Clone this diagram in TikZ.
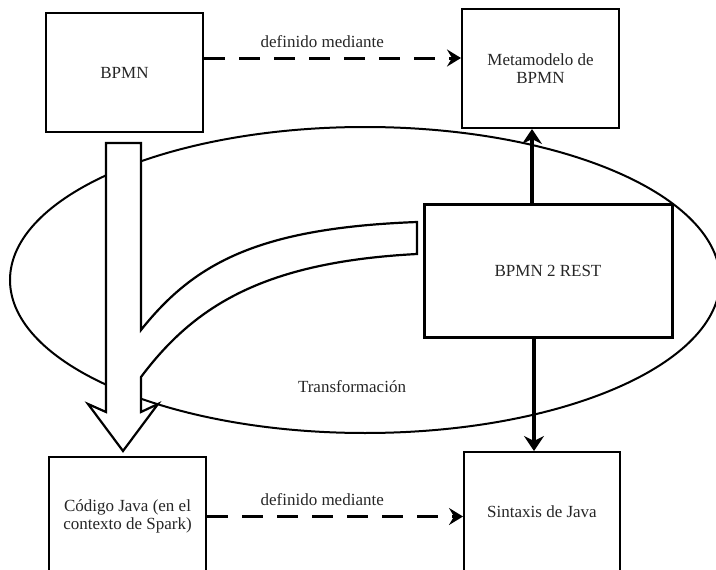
\documentclass[tikz,border=0pt]{standalone}
\usepackage{fontspec}
\setmainfont{Liberation Serif}
\usetikzlibrary{shapes.geometric,arrows.meta}
\begin{document}
\begin{tikzpicture}[x=1pt,y=-1pt,
  lbl/.style={font=\fontsize{17}{18.5}\selectfont, text=black!85, align=center, inner sep=1pt},
  box/.style={lbl, draw, line width=2pt, fill=white, minimum width=157pt, minimum height=119pt, inner sep=2pt},
  bigbox/.style={box, line width=3pt, minimum width=248pt, minimum height=133pt},
  defarrow/.style={line width=3pt, dash pattern=on 21pt off 14pt, -{Stealth[length=14pt,width=17pt,inset=5pt]}},
  flowarrow/.style={line width=3.2pt, -{Stealth[length=15pt,width=20pt,inset=5pt]}},
  bigarrow/.style={draw, fill=white, line width=2.2pt, line join=miter}]
\useasboundingbox (0,0) rectangle (716,570);
\clip (0,0) rectangle (716,570);

% transformation area
\node[draw, ellipse, line width=2pt, minimum width=710pt, minimum height=306pt] (trans) at (365,280) {};
\node[lbl] (translbl) at (352,387) {Transformación};

% broad transformation arrow with its branch from the transformer
\path[bigarrow] (106,143) -- (141,143) -- (141,330)
  .. controls (195,262) and (260,228) .. (417,222) -- (417,254)
  .. controls (265,262) and (195,305) .. (141,377)
  -- (141,412) -- (158,404) -- (123,451) -- (88,404) -- (106,412) -- cycle;

% models and meta-models
\node[box] (bpmn) at (124.5,72.5) {BPMN};
\node[box] (meta) at (540.5,68.5) {Metamodelo de\\BPMN};
\node[bigbox] (rest) at (548,270.5) {BPMN 2 REST};
\node[box] (code) at (127.5,516.5) {Código Java (en el\\contexto de Spark)};
\node[box, minimum width=156pt] (syn) at (542,511.5) {Sintaxis de Java};

% conformance relations
\draw[defarrow] ([yshift=14.5pt]bpmn.east) -- ([yshift=14.5pt]bpmn.east -| meta.west)
  node[lbl, pos=0.46, yshift=16pt] (deftop) {definido mediante};
\draw[defarrow] (code.east) -- (code.east -| syn.west)
  node[lbl, pos=0.45, yshift=17pt] (defbot) {definido mediante};

% the transformer reads the meta-model and writes Java syntax
\draw[flowarrow] ([xshift=-16pt]rest.north) -- ([xshift=-16pt]rest.north |- meta.south);
\draw[flowarrow] ([xshift=-14pt]rest.south) -- ([xshift=-14pt]rest.south |- syn.north);
\end{tikzpicture}
\end{document}
